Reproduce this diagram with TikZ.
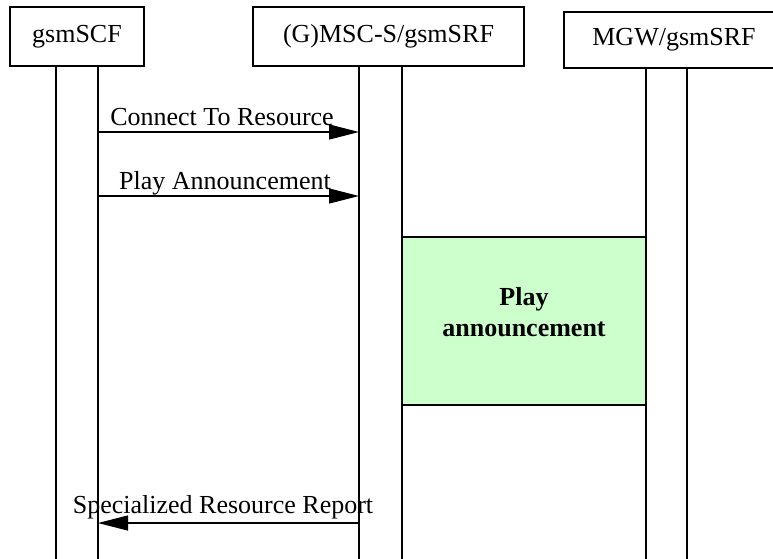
\documentclass[tikz,border=0pt]{standalone}
\usepackage{fontspec}
\setmainfont{Liberation Serif}
\usetikzlibrary{arrows.meta}
\definecolor{playgreen}{HTML}{CCFFCC}
\begin{document}
\begin{tikzpicture}[x=1pt,y=-1pt,
  every node/.style={font=\fontsize{26}{31}\selectfont},
  entity/.style={draw,line width=1.3pt,minimum height=59pt,inner sep=0pt},
  life/.style={line width=1.3pt},
  msg/.style={line width=1.3pt,-{Triangle[length=30pt,width=15pt]}},
  lbl/.style={inner sep=0pt,anchor=base}]
\useasboundingbox (0,0) rectangle (773,558);
\clip (0,0) rectangle (773,558);
% entity boxes
\node[entity,minimum width=134pt] (scf) at (77,36.5) {gsmSCF};
\node[entity,minimum width=271pt] (msc) at (388.5,36.5) {(G)MSC-S/gsmSRF};
\node[entity,minimum width=220pt,minimum height=56pt] (mgw) at (674,40) {MGW/gsmSRF};
% lifelines
\coordinate (a1) at (56,66); \coordinate (a2) at (98,66);
\coordinate (b1) at (359,66); \coordinate (b2) at (402,66);
\coordinate (c1) at (646,68); \coordinate (c2) at (687,68);
\coordinate (a1e) at (56,560); \coordinate (a2e) at (98,560);
\coordinate (b1e) at (359,560); \coordinate (b2e) at (402,560);
\coordinate (c1e) at (646,560); \coordinate (c2e) at (687,560);
\draw[life] (a1) -- (a1e); \draw[life] (a2) -- (a2e);
\draw[life] (b1) -- (b1e); \draw[life] (b2) -- (b2e);
\draw[life] (c1) -- (c1e); \draw[life] (c2) -- (c2e);
% play announcement box
\node[draw,line width=1.3pt,fill=playgreen,minimum width=244pt,minimum height=168pt,inner sep=0pt] (play) at (524,321) {};
\node[align=center,inner sep=0pt,font=\fontsize{26}{31}\selectfont\bfseries] (playtxt) at (524,312) {Play\\announcement};
% messages
\coordinate (m1s) at (98,132); \coordinate (m1e) at (359,132);
\coordinate (m2s) at (98,196); \coordinate (m2e) at (359,196);
\coordinate (m3s) at (359,523); \coordinate (m3e) at (98,523);
\draw[msg] (m1s) -- (m1e);
\draw[msg] (m2s) -- (m2e);
\draw[msg] (m3s) -- (m3e);
\node[lbl] (l1) at (222,125) {Connect To Resource};
\node[lbl] (l2) at (225,189) {Play Announcement};
\node[lbl] (l3) at (223,513) {Specialized Resource Report};
\end{tikzpicture}
\end{document}
